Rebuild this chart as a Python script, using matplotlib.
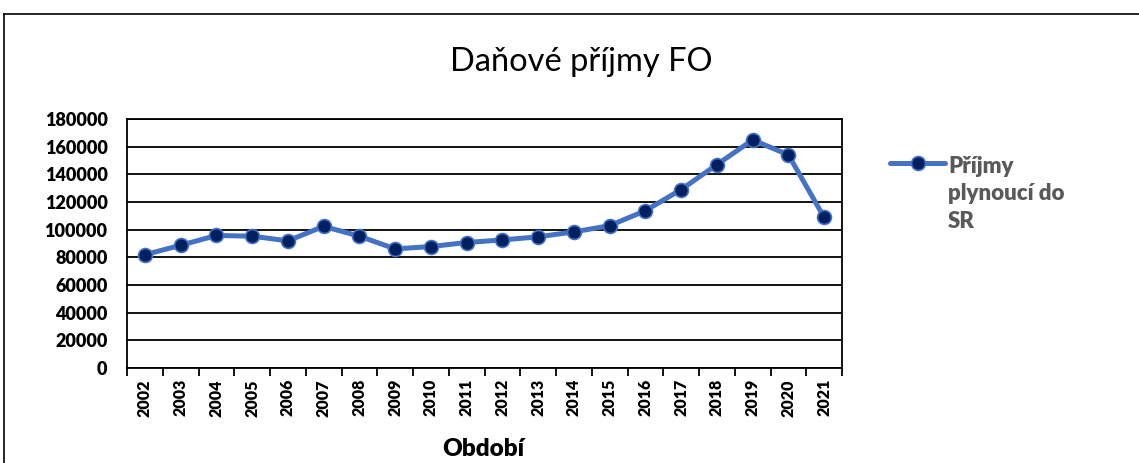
import matplotlib
matplotlib.use("Agg")
import matplotlib.pyplot as plt
from matplotlib.lines import Line2D
import numpy as np

# ── Data ────────────────────────────────────────────
years = ["2002", "2003", "2004", "2005", "2006", "2007", "2008", "2009", "2010", "2011",
         "2012", "2013", "2014", "2015", "2016", "2017", "2018", "2019", "2020", "2021"]
prijmy = [81900, 88700, 95800, 95300, 91900, 102400, 95300, 86100, 87800, 90700,
          92600, 94800, 98400, 102900, 113700, 129000, 147000, 164900, 154100, 108900]
y_ticks = [0, 20000, 40000, 60000, 80000, 100000, 120000, 140000, 160000, 180000]

title = "Daňové příjmy FO"
x_label = "Období"
series_label = "Příjmy\nplynoucí do\nSR"

W, H = 1139, 463
line_color = "#4472C4"
marker_color = "#002060"

fig = plt.figure(figsize=(W / 100, H / 100), dpi=100)
ax = fig.add_axes([127 / W, 1 - 368 / H, (842 - 127) / W, (368 - 119) / H])

x = np.arange(len(years))
ax.plot(x, prijmy, color=line_color, linewidth=3.6, marker="o",
        markersize=10, markerfacecolor=marker_color,
        markeredgecolor=line_color, markeredgewidth=1.2, zorder=3)

# ── Axes ───────────────────────────────────────────
ax.set_xlim(-0.5, len(years) - 0.5)
ax.set_ylim(0, 180000)
ax.set_yticks(y_ticks)
ax.set_yticklabels([str(v) for v in y_ticks], fontfamily="Lato",
                   fontweight="heavy", fontsize=13)
ax.tick_params(axis="y", length=0, pad=14)

ax.set_xticks(x)
ax.set_xticklabels(years, rotation=90, fontfamily="Lato",
                   fontweight="heavy", fontsize=11.5)
ax.set_xticks(np.arange(-0.5, len(years)), minor=True)
ax.tick_params(axis="x", which="major", length=0, pad=8)
ax.tick_params(axis="x", which="minor", length=6, width=1.3, color="black")

ax.grid(axis="y", color="black", linewidth=1.3)
ax.set_axisbelow(True)
for s in ax.spines.values():
    s.set_color("black")
    s.set_linewidth(1.3)

fig.text(483 / W, 1 - 449 / H, x_label, ha="center", va="center",
         fontfamily="Lato", fontweight="heavy", fontsize=17.5)

fig.text(581 / W, 1 - 62 / H, title, ha="center", va="center",
         fontfamily="Lato", fontsize=23.5)

# ── Legend (manual) ────────────────────────────────
ly = 1 - 163 / H
fig.add_artist(Line2D([890 / W, 945 / W], [ly, ly], color=line_color,
                      linewidth=3.6, solid_capstyle="round"))
fig.add_artist(Line2D([917.5 / W], [ly], marker="o", markersize=10,
                      markerfacecolor=marker_color, markeredgecolor=line_color,
                      markeredgewidth=1.2, linestyle="none"))
fig.text(948 / W, 1 - 194 / H, series_label, ha="left", va="center",
         fontfamily="Lato", fontweight="heavy", fontsize=16, color="#595959",
         linespacing=1.4)

# ── Outer frame ────────────────────────────────────
fig.add_artist(Line2D([4 / W, 4 / W], [0, 1 - 14 / H], color="black", linewidth=1.2))
fig.add_artist(Line2D([4 / W, 1], [1 - 14 / H, 1 - 14 / H], color="black", linewidth=1.2))

fig.savefig("out.png", dpi=100)
